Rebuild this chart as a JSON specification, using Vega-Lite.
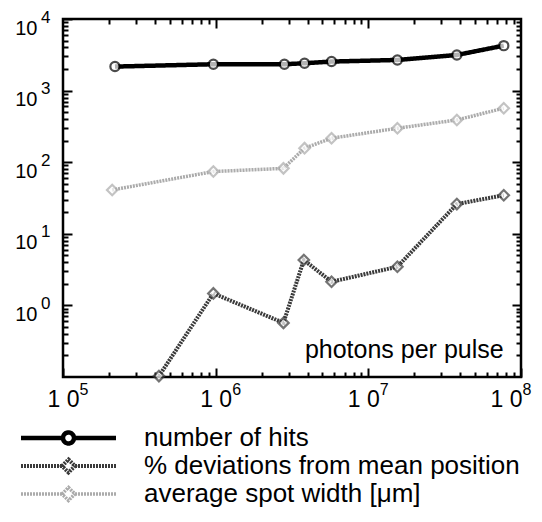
{
  "$schema": "https://vega.github.io/schema/vega-lite/v6.json",
  "width": 458,
  "height": 358,
  "autosize": "none",
  "padding": {"left": 63, "top": 19, "right": 21, "bottom": 145},
  "background": "white",
  "config": {
    "font": "Liberation Sans",
    "view": {"stroke": "black", "strokeWidth": 2.5},
    "axis": {"domain": false, "grid": false, "title": null, "tickColor": "black", "tickWidth": 2, "labelColor": "black", "labelFont": "Liberation Sans", "labelOverlap": false, "labelFlush": false, "labelBound": false}
  },
  "data": {
    "values": [
      {"series": "number of hits", "x": 219000, "y": 2165},
      {"series": "number of hits", "x": 966000, "y": 2334},
      {"series": "number of hits", "x": 2820000, "y": 2334},
      {"series": "number of hits", "x": 3820000, "y": 2410},
      {"series": "number of hits", "x": 5740000, "y": 2543},
      {"series": "number of hits", "x": 15500000, "y": 2680},
      {"series": "number of hits", "x": 38000000, "y": 3145},
      {"series": "number of hits", "x": 77100000, "y": 4246},
      {"series": "% deviations from mean position", "x": 425000, "y": 0.103},
      {"series": "% deviations from mean position", "x": 966000, "y": 1.47},
      {"series": "% deviations from mean position", "x": 2780000, "y": 0.57},
      {"series": "% deviations from mean position", "x": 3780000, "y": 4.3},
      {"series": "% deviations from mean position", "x": 5740000, "y": 2.14},
      {"series": "% deviations from mean position", "x": 15500000, "y": 3.47},
      {"series": "% deviations from mean position", "x": 38000000, "y": 26},
      {"series": "% deviations from mean position", "x": 77100000, "y": 34.6},
      {"series": "average spot width [μm]", "x": 210000, "y": 41},
      {"series": "average spot width [μm]", "x": 966000, "y": 74},
      {"series": "average spot width [μm]", "x": 2780000, "y": 82},
      {"series": "average spot width [μm]", "x": 3820000, "y": 157},
      {"series": "average spot width [μm]", "x": 5740000, "y": 216},
      {"series": "average spot width [μm]", "x": 15500000, "y": 298},
      {"series": "average spot width [μm]", "x": 38000000, "y": 389},
      {"series": "average spot width [μm]", "x": 77100000, "y": 568}
    ]
  },
  "resolve": {"axis": {"x": "independent", "y": "independent"}},
  "layer": [
    {
      "mark": {"type": "line", "clip": true},
      "encoding": {
        "x": {"field": "x", "type": "quantitative", "scale": {"type": "log", "domain": [100000, 100000000], "nice": false},
          "axis": {"orient": "bottom", "values": [100000,200000,300000,400000,500000,600000,700000,800000,900000,1000000,2000000,3000000,4000000,5000000,6000000,7000000,8000000,9000000,10000000,20000000,30000000,40000000,50000000,60000000,70000000,80000000,90000000,100000000],
            "tickSize": {"condition": {"test": "datum.value == 100000 || datum.value == 1000000 || datum.value == 10000000 || datum.value == 100000000", "value": -9}, "value": -5},
            "labelFontSize": 23, "labelPadding": 20, "labelBaseline": "top",
            "labelOffset": {"condition": [{"test": "datum.value == 100000000", "value": -15}, {"test": "datum.value == 10000000", "value": -5}], "value": 0},
            "labelExpr": "datum.value == 100000 || datum.value == 1000000 || datum.value == 10000000 || datum.value == 100000000 ? '1 0' : ''"}},
        "y": {"field": "y", "type": "quantitative", "scale": {"type": "log", "domain": [0.1, 10000], "nice": false},
          "axis": {"orient": "left", "values": [0.2,0.3,0.4,0.5,0.6,0.7,0.8,0.9,1,2,3,4,5,6,7,8,9,10,20,30,40,50,60,70,80,90,100,200,300,400,500,600,700,800,900,1000,2000,3000,4000,5000,6000,7000,8000,9000,10000],
            "tickSize": {"condition": {"test": "datum.value == 1 || datum.value == 10 || datum.value == 100 || datum.value == 1000 || datum.value == 10000", "value": -9}, "value": -5},
            "labelFontSize": 20, "labelPadding": 35, "labelOffset": 9,
            "labelExpr": "datum.value == 1 || datum.value == 10 || datum.value == 100 || datum.value == 1000 || datum.value == 10000 ? '10' : ''"}},
        "color": {"field": "series", "type": "nominal",
          "scale": {"domain": ["number of hits", "% deviations from mean position", "average spot width [μm]"], "range": ["#000000", "#3a3a3a", "#ababab"]},
          "legend": {"title": null, "orient": "none", "legendX": -50, "legendY": 406,
            "symbolType": "M-1,0H7.4M9.6,0H18M7.4,0A1.1,1.1,0,1,1,9.6,0A1.1,1.1,0,1,1,7.4,0Z",
            "symbolSize": 100, "labelFontSize": 26, "labelFont": "Liberation Sans", "labelColor": "black", "labelOffset": 105, "labelLimit": 0, "rowPadding": -3,
            "encode": {"symbols": {"update": {"fill": {"value": "white"},
              "strokeWidth": {"signal": "datum.value === 'number of hits' ? 4 : 3"},
              "shape": {"signal": "datum.value === 'number of hits' ? 'M-1,0H7.4M9.6,0H18M7.4,0A1.1,1.1,0,1,1,9.6,0A1.1,1.1,0,1,1,7.4,0Z' : 'M-1,0H7.2M9.8,0H18M7.2,0L8.5,-1.3L9.8,0L8.5,1.3Z'"}}}}}},
        "strokeDash": {"field": "series", "type": "nominal",
          "scale": {"domain": ["number of hits", "% deviations from mean position", "average spot width [μm]"], "range": [[1,0],[2,1],[2,1]]}},
        "strokeWidth": {"field": "series", "type": "nominal",
          "scale": {"domain": ["number of hits", "% deviations from mean position", "average spot width [μm]"], "range": [4.5, 3.5, 3.5]}, "legend": null}
      }
    },
    {
      "transform": [{"filter": "datum.series === 'number of hits'"}],
      "mark": {"type": "point", "shape": "circle", "filled": true, "fill": "white", "stroke": "black", "strokeWidth": 2.2, "size": 85, "clip": false},
      "encoding": {
        "x": {"field": "x", "type": "quantitative", "axis": {"orient": "top", "values": [200000,300000,400000,500000,600000,700000,800000,900000,1000000,2000000,3000000,4000000,5000000,6000000,7000000,8000000,9000000,10000000,20000000,30000000,40000000,50000000,60000000,70000000,80000000,90000000],
            "tickSize": {"condition": {"test": "datum.value == 1000000 || datum.value == 10000000", "value": -9}, "value": -5}, "labels": false}},
        "y": {"field": "y", "type": "quantitative", "axis": {"orient": "right", "values": [0.2,0.3,0.4,0.5,0.6,0.7,0.8,0.9,1,2,3,4,5,6,7,8,9,10,20,30,40,50,60,70,80,90,100,200,300,400,500,600,700,800,900,1000,2000,3000,4000,5000,6000,7000,8000,9000],
            "tickSize": {"condition": {"test": "datum.value == 1 || datum.value == 10 || datum.value == 100 || datum.value == 1000", "value": -9}, "value": -5}, "labels": false}}
      }
    },
    {
      "transform": [{"filter": "datum.series !== 'number of hits'"}],
      "mark": {"type": "point", "shape": "diamond", "filled": true, "fill": "white", "strokeWidth": 2.2, "size": 110, "clip": false},
      "encoding": {
        "x": {"field": "x", "type": "quantitative", "axis": null},
        "y": {"field": "y", "type": "quantitative", "axis": null},
        "stroke": {"field": "series", "type": "nominal",
          "scale": {"domain": ["number of hits", "% deviations from mean position", "average spot width [μm]"], "range": ["#000000", "#3a3a3a", "#ababab"]}, "legend": null}
      }
    },
    {
      "data": {"values": [{"label": "photons per pulse"}]},
      "mark": {"type": "text", "align": "right", "baseline": "middle", "fontSize": 25, "font": "Liberation Sans", "color": "black"},
      "encoding": {
        "text": {"field": "label"},
        "x": {"datum": 77000000, "type": "quantitative",
          "axis": {"orient": "bottom", "values": [100000, 1000000, 10000000, 100000000], "ticks": false, "labelFontSize": 16, "labelPadding": 4, "labelBaseline": "top", "labelAlign": "left",
            "labelOffset": {"condition": [{"test": "datum.value == 100000000", "value": 1}, {"test": "datum.value == 10000000", "value": 11}], "value": 16},
            "labelExpr": "datum.value == 100000 ? '5' : datum.value == 1000000 ? '6' : datum.value == 10000000 ? '7' : '8'"}},
        "y": {"datum": 0.24, "type": "quantitative",
          "axis": {"orient": "left", "values": [1, 10, 100, 1000, 10000], "ticks": false, "labelFontSize": 17, "labelPadding": 13, "labelOffset": -2,
            "labelExpr": "datum.value == 1 ? '0' : datum.value == 10 ? '1' : datum.value == 100 ? '2' : datum.value == 1000 ? '3' : '4'"}}
      }
    }
  ]
}
